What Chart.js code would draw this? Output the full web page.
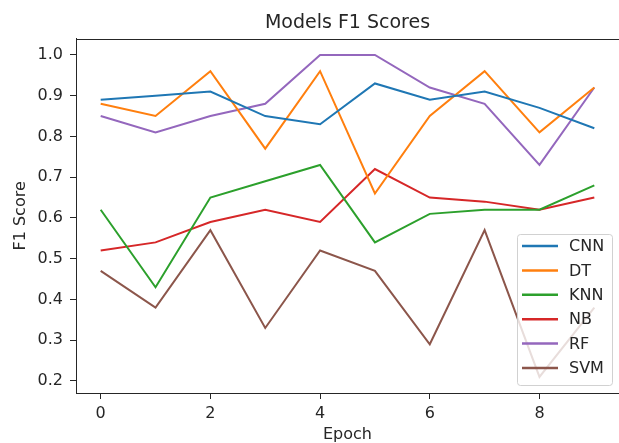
<!DOCTYPE html>
<html>
<head>
<meta charset="utf-8">
<script src="https://cdn.jsdelivr.net/npm/chart.js@4.4.1/dist/chart.umd.min.js"></script>
<style>
  html, body { margin: 0; padding: 0; background: #fff; }
  #wrap { width: 619px; height: 443px; }
</style>
</head>
<body>
<div id="wrap"><canvas id="f1-chart" width="619" height="443"></canvas></div>
<script>
// Données
const epochs = [0, 1, 2, 3, 4, 5, 6, 7, 8, 9];
const cnnScores = [0.89, 0.90, 0.91, 0.85, 0.83, 0.93, 0.89, 0.91, 0.87, 0.82];
const dtScores  = [0.88, 0.85, 0.96, 0.77, 0.96, 0.66, 0.85, 0.96, 0.81, 0.92];
const knnScores = [0.62, 0.43, 0.65, 0.69, 0.73, 0.54, 0.61, 0.62, 0.62, 0.68];
const nbScores  = [0.52, 0.54, 0.59, 0.62, 0.59, 0.72, 0.65, 0.64, 0.62, 0.65];
const rfScores  = [0.85, 0.81, 0.85, 0.88, 1.00, 1.00, 0.92, 0.88, 0.73, 0.92];
const svmScores = [0.47, 0.38, 0.57, 0.33, 0.52, 0.47, 0.29, 0.57, 0.21, 0.38];
const xTicks = [0, 2, 4, 6, 8];
const yTicks = [0.2, 0.3, 0.4, 0.5, 0.6, 0.7, 0.8, 0.9, 1.0];

const textColor = '#262626';
const fontFamily = '"DejaVu Sans", sans-serif';

function makeSeries(label, values, color) {
  return {
    label: label,
    data: epochs.map((e, i) => ({ x: e, y: values[i] })),
    borderColor: color,
    backgroundColor: color,
    borderWidth: 2,
    pointRadius: 0,
    tension: 0,
    fill: false
  };
}

// Légende dessinée dans la zone du graphique (coin bas droit)
const insideLegend = {
  id: 'insideLegend',
  afterDatasetsDraw(chart) {
    const { ctx, chartArea } = chart;
    const sets = chart.data.datasets;
    const boxW = 95, rowH = 24.4, boxH = 151;
    const right = chartArea.right - 7;
    const bottom = chartArea.bottom - 8;
    const left = right - boxW, top = bottom - boxH;
    ctx.save();
    ctx.beginPath();
    ctx.roundRect(left + 0.5, top + 0.5, boxW, boxH, 3);
    ctx.fillStyle = 'rgba(255,255,255,0.8)';
    ctx.fill();
    ctx.strokeStyle = 'rgba(204,204,204,0.9)';
    ctx.lineWidth = 1;
    ctx.stroke();
    ctx.font = '16px ' + fontFamily;
    ctx.textBaseline = 'middle';
    ctx.fillStyle = textColor;
    sets.forEach((ds, i) => {
      const y = top + 12 + i * rowH;
      ctx.beginPath();
      ctx.moveTo(left + 5, y);
      ctx.lineTo(left + 41, y);
      ctx.strokeStyle = ds.borderColor;
      ctx.lineWidth = 2.5;
      ctx.stroke();
      ctx.fillText(ds.label, left + 52, y + 1);
    });
    ctx.restore();
  }
};

// Bordure du haut (le côté droit sort de l'image)
const topSpine = {
  id: 'topSpine',
  afterDraw(chart) {
    const { ctx, chartArea } = chart;
    ctx.save();
    ctx.strokeStyle = textColor;
    ctx.lineWidth = 1;
    ctx.beginPath();
    ctx.moveTo(chartArea.left, Math.round(chartArea.top) + 0.5);
    ctx.lineTo(chartArea.right + 2, Math.round(chartArea.top) + 0.5);
    ctx.stroke();
    ctx.restore();
  }
};

const f1Chart = new Chart(document.getElementById('f1-chart'), {
  type: 'line',
  data: {
    datasets: [
      makeSeries('CNN', cnnScores, '#1f77b4'),
      makeSeries('DT', dtScores, '#ff7f0e'),
      makeSeries('KNN', knnScores, '#2ca02c'),
      makeSeries('NB', nbScores, '#d62728'),
      makeSeries('RF', rfScores, '#9467bd'),
      makeSeries('SVM', svmScores, '#8c564b')
    ]
  },
  options: {
    responsive: false,
    animation: false,
    layout: { padding: { left: 0, right: 0, top: 0, bottom: 0 } },
    plugins: {
      legend: { display: false },
      tooltip: { enabled: false },
      title: {
        display: true,
        text: 'Models F1 Scores',
        fullSize: false,
        color: textColor,
        font: { family: fontFamily, size: 19, weight: 'normal', lineHeight: 1.2 },
        padding: { top: 12, bottom: 4 }
      }
    },
    scales: {
      x: {
        type: 'linear',
        min: -0.45,
        max: 9.45,
        afterBuildTicks: (scale) => { scale.ticks = xTicks.map(v => ({ value: v })); },
        afterFit: (scale) => { scale.height = 50; },
        grid: { drawOnChartArea: false, drawTicks: true, tickLength: 6, tickColor: textColor },
        border: { display: true, color: textColor, width: 1 },
        ticks: {
          color: textColor,
          padding: 5,
          font: { family: fontFamily, size: 16 },
          callback: (v) => String(v)
        },
        title: {
          display: true,
          text: 'Epoch',
          color: textColor,
          font: { family: fontFamily, size: 16, lineHeight: 1 },
          padding: { top: 0, bottom: 0 }
        }
      },
      y: {
        type: 'linear',
        min: 0.1705,
        max: 1.0395,
        afterBuildTicks: (scale) => { scale.ticks = yTicks.map(v => ({ value: v })); },
        afterFit: (scale) => { scale.width = 76; },
        grid: { drawOnChartArea: false, drawTicks: true, tickLength: 6, tickColor: textColor },
        border: { display: true, color: textColor, width: 1 },
        ticks: {
          color: textColor,
          padding: 7,
          font: { family: fontFamily, size: 16 },
          callback: (v) => v.toFixed(1)
        },
        title: {
          display: true,
          text: 'F1 Score',
          color: textColor,
          font: { family: fontFamily, size: 16, lineHeight: 1.2 },
          padding: { top: 11, bottom: 0 }
        }
      }
    }
  },
  plugins: [insideLegend, topSpine]
});
</script>
</body>
</html>
